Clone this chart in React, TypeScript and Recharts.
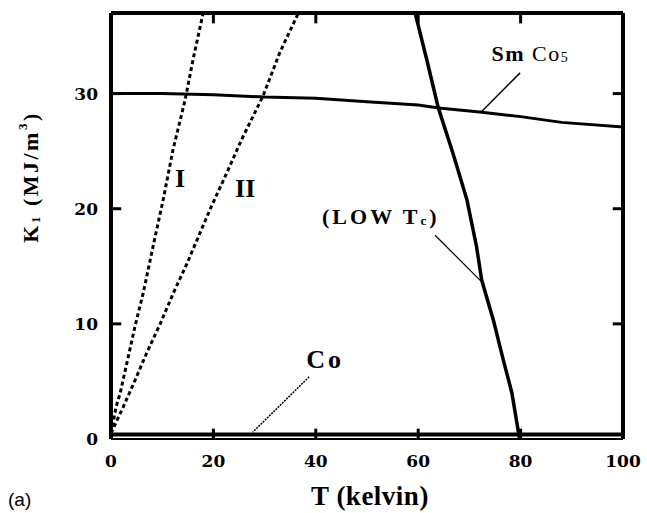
import React from "react";
import {
  LineChart,
  Line,
  XAxis,
  YAxis,
  ReferenceLine,
  ReferenceDot,
} from "recharts";

// ---- data ----
const xTicks = [0, 20, 40, 60, 80, 100];
const yTicks = [0, 10, 20, 30];
const frameYTicks = [10, 20, 30];
const frameXTicks = [20, 40, 60, 80];

const smco5T = [0, 10, 20, 30, 40, 50, 60, 64, 72, 80, 88, 100];
const smco5K = [30.0, 30.0, 29.9, 29.7, 29.6, 29.3, 29.0, 28.75, 28.4, 28.0, 27.5, 27.1];

const lineIT = [0, 1, 1.8, 3.4, 4.7, 6.3, 8.2, 10.2, 12.1, 14.5, 16, 18];
const lineIK = [0.5, 2.8, 4.0, 7.2, 9.8, 12.7, 16.7, 20.8, 25.1, 29.5, 32.9, 37];

const lineIIT = [0, 2.4, 4.4, 7, 9.6, 12.2, 14.8, 19.3, 22.7, 25.5, 29.7, 33, 36.6];
const lineIIK = [0.5, 2.8, 4.8, 7.5, 10, 12.7, 15.2, 19.9, 23.2, 26, 29.8, 33.6, 37];

const lowTcT = [59.4, 61.7, 63.9, 66.8, 69.5, 71.4, 72.4, 74.7, 76.6, 78.3, 79.8];
const lowTcK = [37, 32.9, 28.8, 24.8, 20.8, 16.7, 13.8, 10.3, 6.9, 4.0, 0];

const coT = [0, 100];
const coK = [0.4, 0.4];

const X_MIN = 0;
const X_MAX = 100;
const Y_MIN = 0;
const Y_MAX = 37;

const toPts = (xs: number[], ys: number[]) => xs.map((x, i) => ({ x, y: ys[i] }));

const smco5Data = toPts(smco5T, smco5K);
const lineIData = toPts(lineIT, lineIK);
const lineIIData = toPts(lineIIT, lineIIK);
const lowTcData = toPts(lowTcT, lowTcK);
const coData = toPts(coT, coK);

const SERIF = "'Liberation Serif', 'Times New Roman', serif";
const TICKFONT = "'DejaVu Serif', serif";
// inward tick length expressed in axis units (~10px)
const TICK_DX = 2.0;
const TICK_DY = 0.9;

const BottomTick = (p: any) => {
  const { x, y, payload } = p;
  return (
    <text
      x={x}
      y={y + 28}
      textAnchor="middle"
      fontFamily={TICKFONT}
      fontWeight={700}
      fontSize={17}
      fill="#000"
    >
      {payload.value}
    </text>
  );
};

const LeftTick = (p: any) => {
  const { x, y, payload } = p;
  return (
    <text
      x={x - 13}
      y={y}
      textAnchor="end"
      dominantBaseline="central"
      fontFamily={TICKFONT}
      fontWeight={700}
      fontSize={17}
      fill="#000"
    >
      {payload.value}
    </text>
  );
};

const textShape = (children: React.ReactNode, extra: any = {}) => (p: any) => (
  <text
    x={p.cx}
    y={p.cy}
    textAnchor="middle"
    dominantBaseline="central"
    fontFamily={SERIF}
    fill="#000"
    {...extra}
  >
    {children}
  </text>
);

const tickSegs: { a: { x: number; y: number }; b: { x: number; y: number } }[] = [
  ...frameXTicks.map((t) => ({ a: { x: t, y: Y_MIN }, b: { x: t, y: Y_MIN + TICK_DY } })),
  ...frameXTicks.map((t) => ({ a: { x: t, y: Y_MAX }, b: { x: t, y: Y_MAX - TICK_DY } })),
  ...frameYTicks.map((v) => ({ a: { x: X_MIN, y: v }, b: { x: X_MIN + TICK_DX, y: v } })),
  ...frameYTicks.map((v) => ({ a: { x: X_MAX, y: v }, b: { x: X_MAX - TICK_DX, y: v } })),
];

export default function App() {
  return (
    <div style={{ position: "absolute", left: 0, top: 0, background: "#fff" }}>
      <LineChart
        width={647}
        height={513}
        margin={{ top: 0, right: 0, bottom: 44, left: 0 }}
      >
        <XAxis
          dataKey="x"
          type="number"
          domain={[X_MIN, X_MAX]}
          ticks={xTicks}
          allowDataOverflow
          height={30}
          axisLine={{ stroke: "#000", strokeWidth: 2 }}
          tickLine={false}
          tickSize={0}
          tickMargin={0}
          tick={<BottomTick />}
          interval={0}
          label={{
            content: (props: any) => {
              const vb = props.viewBox || { x: 111, y: 439, width: 512, height: 30 };
              return (
                <g>
                  <text
                    x={vb.x + vb.width / 2 + 3}
                    y={505}
                    textAnchor="middle"
                    fontFamily={SERIF}
                    fontWeight={700}
                    fontSize={27}
                    letterSpacing={0.5}
                    fill="#000"
                  >
                    T (kelvin)
                  </text>
                  <text
                    x={8}
                    y={506}
                    fontFamily="'Liberation Sans', Arial, sans-serif"
                    fontSize={19}
                    fill="#000"
                  >
                    (a)
                  </text>
                </g>
              );
            },
          }}
        />
        <XAxis
          xAxisId="top"
          orientation="top"
          type="number"
          domain={[X_MIN, X_MAX]}
          ticks={frameXTicks}
          height={13}
          axisLine={{ stroke: "#000", strokeWidth: 4 }}
          tickLine={false}
          tick={false}
        />
        <YAxis
          type="number"
          domain={[Y_MIN, Y_MAX]}
          ticks={yTicks}
          allowDataOverflow
          width={111}
          axisLine={{ stroke: "#000", strokeWidth: 4 }}
          tickLine={false}
          tickSize={0}
          tickMargin={0}
          tick={<LeftTick />}
          interval={0}
          label={{
            content: () => (
              <text
                transform="rotate(-90 30 177)"
                x={30}
                y={177}
                textAnchor="middle"
                dominantBaseline="central"
                fontFamily={SERIF}
                fontWeight={700}
                fontSize={22}
                letterSpacing={2.5}
                fill="#000"
              >
                K
                <tspan dy={5} fontSize={13}>1</tspan>
                <tspan dy={-5}> (MJ/m</tspan>
                <tspan dy={-8} fontSize={13}>3</tspan>
                <tspan dy={8}>)</tspan>
              </text>
            ),
          }}
        />
        <YAxis
          yAxisId="right"
          orientation="right"
          type="number"
          domain={[Y_MIN, Y_MAX]}
          ticks={frameYTicks}
          width={24}
          axisLine={{ stroke: "#000", strokeWidth: 4 }}
          tickLine={false}
          tick={false}
        />

        <Line
          data={coData}
          dataKey="y"
          type="linear"
          stroke="#000"
          strokeWidth={4}
          dot={false}
          isAnimationActive={false}
        />
        <Line
          data={smco5Data}
          dataKey="y"
          type="linear"
          stroke="#000"
          strokeWidth={3}
          dot={false}
          isAnimationActive={false}
        />
        <Line
          data={lineIData}
          dataKey="y"
          type="linear"
          stroke="#000"
          strokeWidth={3}
          strokeDasharray="4 3"
          dot={false}
          isAnimationActive={false}
        />
        <Line
          data={lineIIData}
          dataKey="y"
          type="linear"
          stroke="#000"
          strokeWidth={3}
          strokeDasharray="4 3"
          dot={false}
          isAnimationActive={false}
        />
        <Line
          data={lowTcData}
          dataKey="y"
          type="linear"
          stroke="#000"
          strokeWidth={3.5}
          dot={false}
          isAnimationActive={false}
        />

        {tickSegs.map((s, i) => (
          <ReferenceLine
            key={"tk" + i}
            segment={[s.a, s.b]}
            stroke="#000"
            strokeWidth={3}
            ifOverflow="visible"
          />
        ))}

        {/* leader lines */}
        <ReferenceLine
          segment={[{ x: 79.9, y: 31.8 }, { x: 72.3, y: 28.4 }]}
          stroke="#000"
          strokeWidth={1.5}
          ifOverflow="visible"
        />
        <ReferenceLine
          segment={[{ x: 63.3, y: 17.7 }, { x: 72.5, y: 13.6 }]}
          stroke="#000"
          strokeWidth={1.2}
          ifOverflow="visible"
        />
        <ReferenceLine
          segment={[{ x: 38.7, y: 5.4 }, { x: 27.7, y: 0.6 }]}
          stroke="#000"
          strokeWidth={1.5}
          strokeDasharray="2 1"
          ifOverflow="visible"
        />

        {/* text annotations */}
        <ReferenceDot
          x={13.5}
          y={22.6}
          r={0}
          ifOverflow="visible"
          shape={textShape("I", { fontSize: 26, fontWeight: 700 })}
        />
        <ReferenceDot
          x={26.2}
          y={21.8}
          r={0}
          ifOverflow="visible"
          shape={textShape("II", { fontSize: 26, fontWeight: 700 })}
        />
        <ReferenceDot
          x={81.9}
          y={33.5}
          r={0}
          ifOverflow="visible"
          shape={textShape(
            <>
              <tspan fontWeight={700}>Sm</tspan>
              <tspan> Co</tspan>
              <tspan dy={4} fontSize={14}>5</tspan>
            </>,
            { fontSize: 22, letterSpacing: 1.5 }
          )}
        />
        <ReferenceDot
          x={52.7}
          y={19.4}
          r={0}
          ifOverflow="visible"
          shape={textShape(
            <>
              <tspan>(LOW T</tspan>
              <tspan dy={4} fontSize={13}>c</tspan>
              <tspan dy={-4}>)</tspan>
            </>,
            { fontSize: 22, fontWeight: 700, letterSpacing: 3 }
          )}
        />
        <ReferenceDot
          x={41.8}
          y={6.9}
          r={0}
          ifOverflow="visible"
          shape={textShape("Co", { fontSize: 26, letterSpacing: 3, fontWeight: 700 })}
        />
      </LineChart>
    </div>
  );
}
